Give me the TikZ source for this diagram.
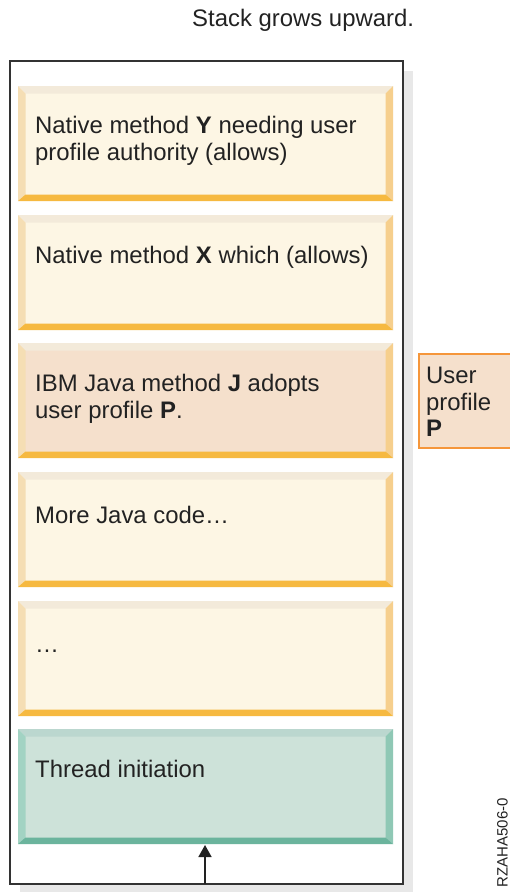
\documentclass[tikz,border=0pt]{standalone}
\usepackage{fontspec}
\setmainfont{Liberation Sans}
\usetikzlibrary{arrows.meta}
\definecolor{txt}{HTML}{222222}
\definecolor{yfill}{HTML}{FDF6E4}
\definecolor{pfill}{HTML}{F5E0CC}
\definecolor{gfill}{HTML}{CDE2D9}
\definecolor{btop}{HTML}{F3EADA}
\definecolor{bleft}{HTML}{F5DEB4}
\definecolor{bright}{HTML}{F6CF8D}
\definecolor{bbot}{HTML}{F6B940}
\definecolor{gtop}{HTML}{BBD7CF}
\definecolor{gleft}{HTML}{A2D3C3}
\definecolor{gright}{HTML}{8FC8B5}
\definecolor{gbot}{HTML}{6BB49D}
\definecolor{shadowgray}{HTML}{E8E8E8}
\definecolor{frameline}{HTML}{333333}
\definecolor{uporange}{HTML}{F5963A}
\newcommand{\bevbox}[9]{%
  \fill[#5] (#1,#2) rectangle (#3,#4);
  \fill[#6] (#1,#2) -- (#3,#2) -- ({#3-7.5},{#2+7.5}) -- ({#1+7.5},{#2+7.5}) -- cycle;
  \fill[#7] (#1,#2) -- ({#1+7.5},{#2+7.5}) -- ({#1+7.5},{#4-6.5}) -- (#1,#4) -- cycle;
  \fill[#8] (#3,#2) -- ({#3-7.5},{#2+7.5}) -- ({#3-7.5},{#4-6.5}) -- (#3,#4) -- cycle;
  \fill[#9] (#1,#4) -- ({#1+7.5},{#4-6.5}) -- ({#3-7.5},{#4-6.5}) -- (#3,#4) -- cycle;
}
\tikzset{
  lbl/.style={anchor=base west, inner sep=0pt, text=txt, font=\fontsize{23.9}{27}\selectfont},
  framebox/.style={draw=frameline, line width=2pt, fill=white},
  upbox/.style={draw=uporange, line width=2pt, fill=pfill},
  growarrow/.style={draw=txt, line width=1.6pt, -{Triangle[length=12pt,width=13pt]}}
}
\begin{document}
\begin{tikzpicture}[x=1pt,y=-1pt]
\useasboundingbox (0,0) rectangle (509,892);
% title
\node[lbl] (title) at (192,26) {Stack grows upward.};
% shadow and frame
\fill[shadowgray] (20,71) rectangle (413,894);
\path[framebox] (10,61) rectangle (403,884);
% boxes
\bevbox{18}{86}{393}{201}{yfill}{btop}{bleft}{bright}{bbot}
\bevbox{18}{215}{393}{330}{yfill}{btop}{bleft}{bright}{bbot}
\bevbox{18}{343}{393}{458}{pfill}{btop}{bleft}{bright}{bbot}
\bevbox{18}{472}{393}{587}{yfill}{btop}{bleft}{bright}{bbot}
\bevbox{18}{601}{393}{716}{yfill}{btop}{bleft}{bright}{bbot}
\bevbox{18}{729}{393}{844}{gfill}{gtop}{gleft}{gright}{gbot}
% texts
\node[lbl] (t1a) at (35,133) {Native method \textbf{Y} needing user};
\node[lbl] (t1b) at (35,160) {profile authority (allows)};
\node[lbl] (t2) at (35,263) {Native method \textbf{X} which (allows)};
\node[lbl] (t3a) at (35,391) {IBM Java method \textbf{J} adopts};
\node[lbl] (t3b) at (35,418) {user profile \textbf{P}.};
\node[lbl] (t4) at (35,523) {More Java code…};
\node[lbl] (t5) at (35,652) {…};
\node[lbl] (t6) at (35,777) {Thread initiation};
% user profile box
\path[upbox] (419,354) rectangle (520,448);
\node[lbl] (u1) at (426,383) {User};
\node[lbl] (u2) at (426,410) {profile};
\node[lbl] (u3) at (426,436) {\textbf{P}};
% arrow
\coordinate (arrstart) at (205,884);
\coordinate (arrend) at (205,845);
\draw[growarrow] (arrstart) -- (arrend);
% figure id
\node[anchor=base east, rotate=90, inner sep=0pt, text=txt, font=\fontsize{15}{18}\selectfont] (figid) at (507.5,798) {RZAHA506-0};
\end{tikzpicture}
\end{document}
